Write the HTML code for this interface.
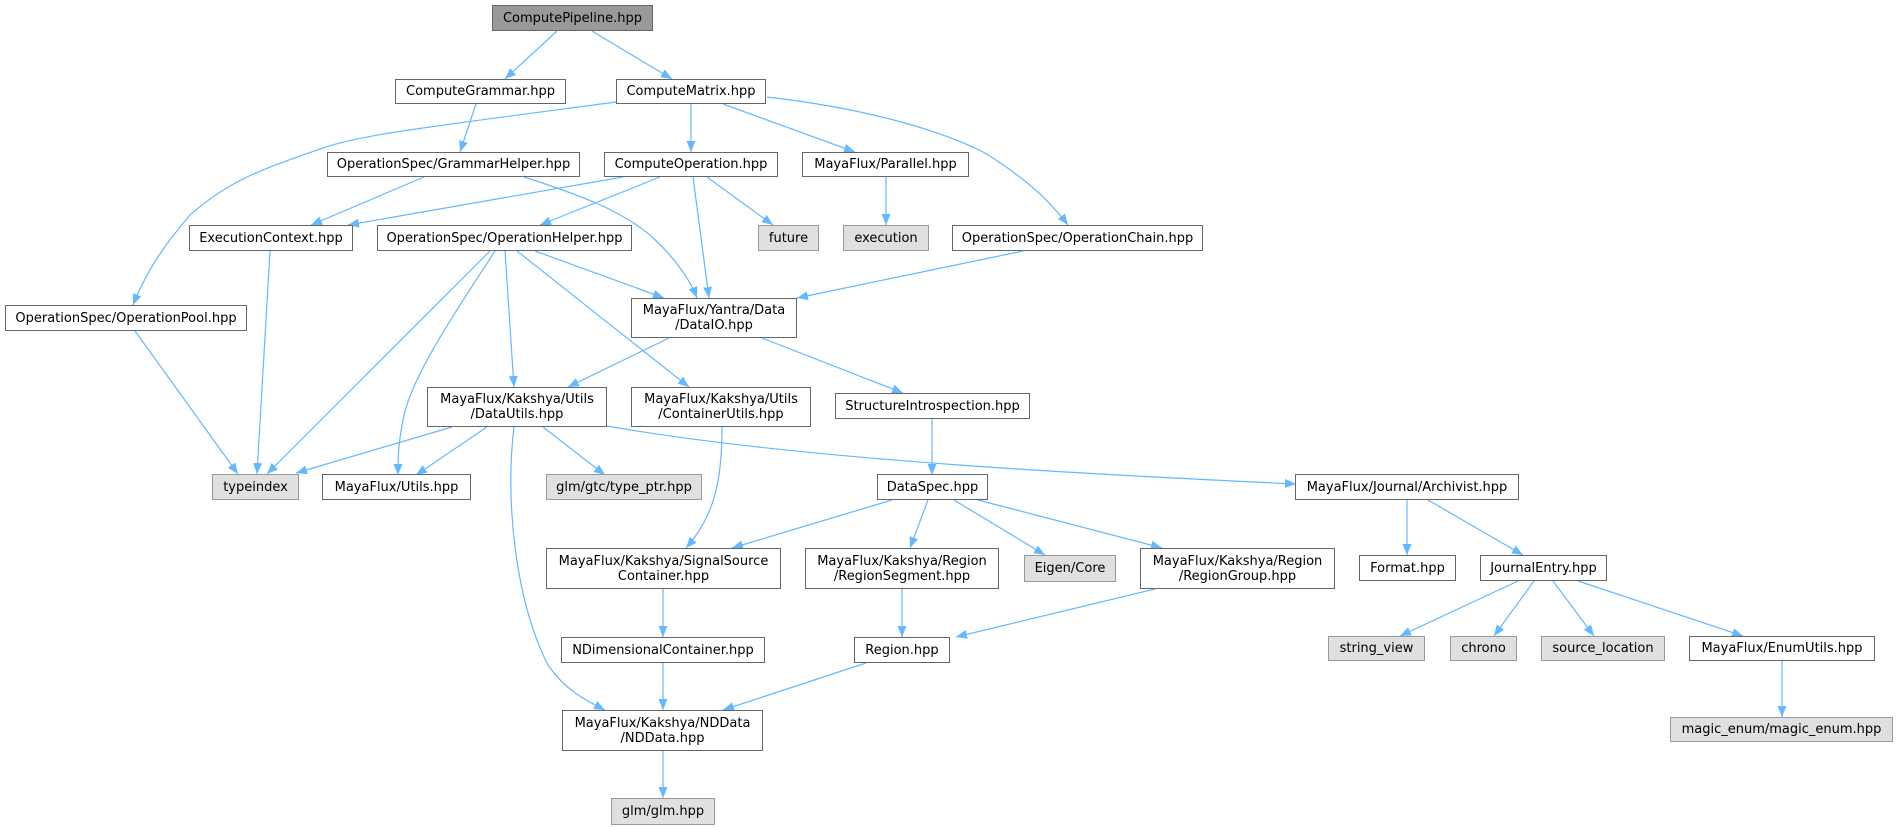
<!DOCTYPE html>
<html><head><meta charset="utf-8"><style>
html,body{margin:0;padding:0;background:#fff;}
#c{position:relative;width:1899px;height:828px;overflow:hidden;font-family:"DejaVu Sans","Liberation Sans",sans-serif;font-size:13px;color:#000;}
svg{position:absolute;left:0;top:0;}
.n{position:absolute;box-sizing:border-box;border:1.3px solid #666;background:#fff;display:flex;align-items:center;justify-content:center;text-align:center;line-height:15px;white-space:nowrap;}
.g{background:#e0e0e0;border-color:#999;}
.r{background:#999;border-color:#666;}
</style></head><body><div id="c">
<svg width="1899" height="828" viewBox="0 0 1899 828">
<defs><marker id="a" markerUnits="userSpaceOnUse" markerWidth="12" markerHeight="10" refX="11" refY="5" orient="auto"><path d="M0,0.5 L11,5 L0,9.5 z" fill="#63b8ff"/></marker></defs>
<g fill="none" stroke="#63b8ff" stroke-width="1.2" marker-end="url(#a)">
<path d="M557,31 L505,79"/>
<path d="M592,31 L672,79"/>
<path d="M476,104 L460,152"/>
<path d="M616,102 C420,128 360,135 323,148 C260,170 230,180 190,215 C160,250 145,275 133,305"/>
<path d="M691,104 L691,152"/>
<path d="M723,104 L855,152"/>
<path d="M767,97 C880,110 950,135 985,153 C1020,175 1045,195 1068,225"/>
<path d="M424,177 L311,225"/>
<path d="M524,177 C580,195 620,210 650,235 C675,258 690,280 697,298"/>
<path d="M623,177 L348,225"/>
<path d="M660,177 L540,225"/>
<path d="M693,177 L709,298"/>
<path d="M707,177 L773,225"/>
<path d="M886,177 L886,225"/>
<path d="M1023,251 L797,298"/>
<path d="M270,251 L257,474"/>
<path d="M135,331 L238,474"/>
<path d="M490,251 L267,474"/>
<path d="M495,251 C450,320 410,380 403,420 C398,445 398,460 398,475"/>
<path d="M505,251 L514,387"/>
<path d="M517,251 L689,387"/>
<path d="M535,251 L664,298"/>
<path d="M669,338 L568,387"/>
<path d="M762,338 L903,393"/>
<path d="M452,427 L296,473"/>
<path d="M487,427 L416,475"/>
<path d="M543,427 L605,475"/>
<path d="M514,427 C505,500 515,600 548,665 C565,690 585,700 605,710"/>
<path d="M607,426 C800,460 1100,475 1296,484"/>
<path d="M722,427 C722,480 715,515 686,548"/>
<path d="M932,419 L932,475"/>
<path d="M892,500 L732,548"/>
<path d="M928,500 L910,548"/>
<path d="M954,500 L1045,555"/>
<path d="M978,500 L1162,548"/>
<path d="M663,589 L663,637"/>
<path d="M902,589 L902,637"/>
<path d="M1155,589 L956,637"/>
<path d="M663,663 L663,710"/>
<path d="M866,663 L723,710"/>
<path d="M663,751 L663,798"/>
<path d="M1407,500 L1407,555"/>
<path d="M1428,500 L1523,555"/>
<path d="M1518,581 L1400,636"/>
<path d="M1534,581 L1494,636"/>
<path d="M1553,581 L1594,636"/>
<path d="M1578,581 L1743,636"/>
<path d="M1782,661 L1782,717"/>
</g></svg>
<div class="n r" style="left:492px;top:5px;width:161px;height:26px">ComputePipeline.hpp</div>
<div class="n" style="left:395px;top:79px;width:171px;height:25px">ComputeGrammar.hpp</div>
<div class="n" style="left:616px;top:79px;width:150px;height:25px">ComputeMatrix.hpp</div>
<div class="n" style="left:327px;top:152px;width:253px;height:25px">OperationSpec/GrammarHelper.hpp</div>
<div class="n" style="left:604px;top:152px;width:174px;height:25px">ComputeOperation.hpp</div>
<div class="n" style="left:802px;top:152px;width:167px;height:25px">MayaFlux/Parallel.hpp</div>
<div class="n" style="left:189px;top:225px;width:164px;height:26px">ExecutionContext.hpp</div>
<div class="n" style="left:377px;top:225px;width:255px;height:26px">OperationSpec/OperationHelper.hpp</div>
<div class="n g" style="left:758px;top:225px;width:61px;height:26px">future</div>
<div class="n g" style="left:843px;top:225px;width:86px;height:26px">execution</div>
<div class="n" style="left:952px;top:225px;width:251px;height:26px">OperationSpec/OperationChain.hpp</div>
<div class="n" style="left:5px;top:305px;width:242px;height:26px">OperationSpec/OperationPool.hpp</div>
<div class="n" style="left:631px;top:298px;width:166px;height:40px">MayaFlux/Yantra/Data<br>/DataIO.hpp</div>
<div class="n" style="left:427px;top:387px;width:180px;height:40px">MayaFlux/Kakshya/Utils<br>/DataUtils.hpp</div>
<div class="n" style="left:631px;top:387px;width:180px;height:40px">MayaFlux/Kakshya/Utils<br>/ContainerUtils.hpp</div>
<div class="n" style="left:835px;top:393px;width:195px;height:26px">StructureIntrospection.hpp</div>
<div class="n g" style="left:212px;top:474px;width:87px;height:26px">typeindex</div>
<div class="n" style="left:322px;top:474px;width:149px;height:26px">MayaFlux/Utils.hpp</div>
<div class="n g" style="left:546px;top:474px;width:156px;height:26px">glm/gtc/type_ptr.hpp</div>
<div class="n" style="left:877px;top:474px;width:111px;height:26px">DataSpec.hpp</div>
<div class="n" style="left:1295px;top:474px;width:224px;height:26px">MayaFlux/Journal/Archivist.hpp</div>
<div class="n" style="left:546px;top:548px;width:235px;height:41px">MayaFlux/Kakshya/SignalSource<br>Container.hpp</div>
<div class="n" style="left:805px;top:548px;width:194px;height:41px">MayaFlux/Kakshya/Region<br>/RegionSegment.hpp</div>
<div class="n g" style="left:1024px;top:555px;width:92px;height:27px">Eigen/Core</div>
<div class="n" style="left:1140px;top:548px;width:195px;height:41px">MayaFlux/Kakshya/Region<br>/RegionGroup.hpp</div>
<div class="n" style="left:1359px;top:555px;width:97px;height:26px">Format.hpp</div>
<div class="n" style="left:1480px;top:555px;width:127px;height:26px">JournalEntry.hpp</div>
<div class="n" style="left:561px;top:637px;width:204px;height:26px">NDimensionalContainer.hpp</div>
<div class="n" style="left:854px;top:637px;width:96px;height:26px">Region.hpp</div>
<div class="n g" style="left:1328px;top:636px;width:97px;height:25px">string_view</div>
<div class="n g" style="left:1450px;top:636px;width:67px;height:25px">chrono</div>
<div class="n g" style="left:1541px;top:636px;width:124px;height:25px">source_location</div>
<div class="n" style="left:1689px;top:636px;width:186px;height:25px">MayaFlux/EnumUtils.hpp</div>
<div class="n" style="left:562px;top:710px;width:201px;height:41px">MayaFlux/Kakshya/NDData<br>/NDData.hpp</div>
<div class="n g" style="left:1670px;top:717px;width:223px;height:25px">magic_enum/magic_enum.hpp</div>
<div class="n g" style="left:611px;top:798px;width:104px;height:27px">glm/glm.hpp</div>
</div></body></html>
